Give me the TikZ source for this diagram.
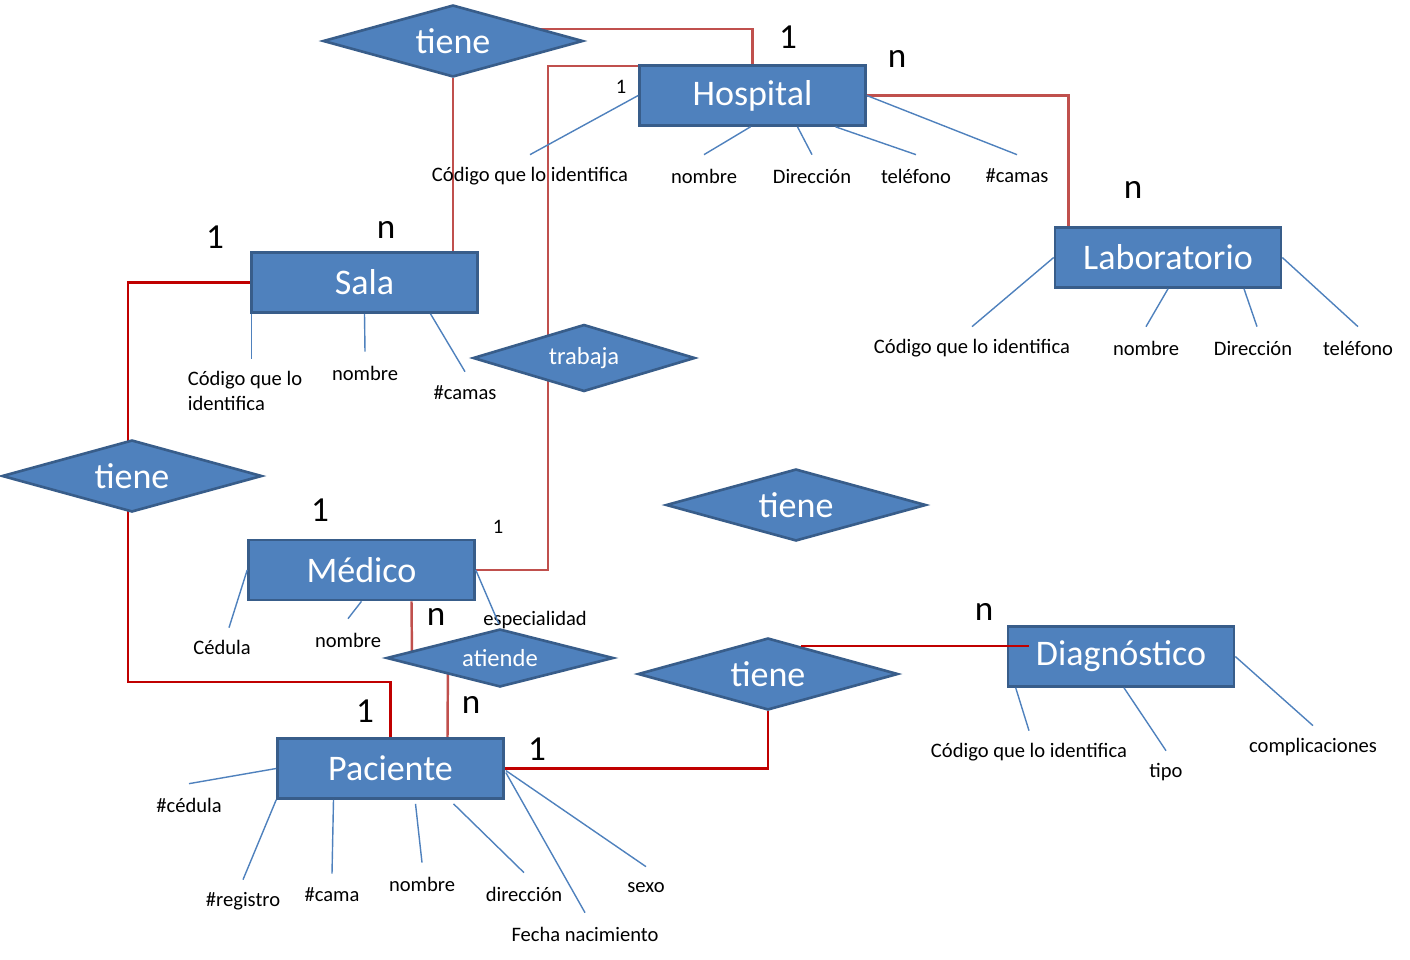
\documentclass[tikz,border=0pt]{standalone}
\usepackage{fontspec}
\setmainfont{Carlito}
\usetikzlibrary{shapes,positioning,calc,backgrounds}
\definecolor{entfill}{HTML}{4F81BD}
\definecolor{entline}{HTML}{385D8A}
\definecolor{relred}{HTML}{C0504D}
\definecolor{reldark}{HTML}{C00000}
\definecolor{attrblue}{HTML}{4F81BD}
\newcommand{\entfont}{\fontsize{20.5}{24}\selectfont}
\newcommand{\relfont}{\fontsize{14}{17}\selectfont}
\newcommand{\attfont}{\fontsize{11.7}{14.2}\selectfont}
\newcommand{\cardfont}{\fontsize{20}{24}\selectfont}
\tikzset{
  entity/.style    = {draw=entline, fill=entfill, line width=1.5pt, rectangle,
                      minimum width=4.52cm, minimum height=1.2cm, text=white, font=\entfont},
  relation/.style  = {draw=entline, fill=entfill, line width=1.5pt, diamond, aspect=3.6, inner sep=0pt,
                      minimum width=5.2cm, minimum height=1.44cm, text=white, font=\entfont},
  relsmall/.style  = {relation, aspect=3.3, minimum width=4.44cm, minimum height=1.34cm, font=\relfont},
  attr/.style      = {inner sep=0pt, minimum height=0.84cm, font=\attfont},
  attrline/.style  = {draw=attrblue, line width=0.8pt},
  relline/.style   = {draw=relred, line width=1.4pt},
  darkline/.style  = {draw=reldark, line width=1.4pt},
  cardbig/.style   = {inner sep=0pt, font=\cardfont},
  cardsmall/.style = {inner sep=0pt, font=\attfont}
}
\begin{document}
\begin{tikzpicture}[x=0.02cm, y=-0.02cm]
      \useasboundingbox (0,0) rectangle (1410,960);
      %Entities
      \node[entity] (hosp) at (752.5,95.5) {Hospital};
      \node[entity] (sala) at (364.5,282.5) {Sala};
      \node[entity] (lab) at (1168,257.5) {Laboratorio};
      \node[entity] (medico) at (361.5,570) {Médico};
      \node[entity] (pac) at (390.5,768.5) {Paciente};
      \node[entity] (diag) at (1121,656.5) {Diagnóstico};
      %Relations
      \node[relation] (tieneA) at (453,41) {tiene};
      \node[relsmall] (trabaja) at (584,358) {trabaja};
      \node[relation] (tieneL) at (132,476) {tiene};
      \node[relation] (tieneM) at (796,505) {tiene};
      \node[relsmall, minimum width=4.54cm, minimum height=1.16cm] (atiende) at (500,658) {atiende};
      \node[relation] (tieneB) at (768,674) {tiene};
      %Relation lines
      \begin{scope}[on background layer]
        \draw[relline] ($(tieneA.center)+(0,-12)$) -| (hosp.north);
        \draw[relline] (tieneA.south) -- (tieneA.south |- sala.north);
        \draw[relline] ($(hosp.north west)+(0,2)$) -| ($(trabaja.center)+(-36,0)$);
        \draw[relline] ($(trabaja.center)+(-36,0)$) |- (medico.east);
        \draw[relline] (hosp.east) -| ($(lab.north west)+(15,0)$);
        \draw[darkline] (sala.west) -| ($(tieneL.center)+(-4,0)$);
        \draw[darkline] ($(tieneL.center)+(-4,0)$) |- ($(pac.north)+(0,-55)$) -- (pac.north);
        \draw[relline] ($(medico.south)+(50,0)$) -- ($(atiende.center)+(-88,0)$);
        \draw[relline] ($(atiende.center)+(-52,0)$) -- ($(pac.north)+(57,0)$);
        \draw[darkline] (pac.east) -| (tieneB.south);
      \end{scope}
      \coordinate (dg) at ($(diag.west)+(22,-10)$);
      \coordinate (tb) at ($(tieneB.north)!0.25!(tieneB.east)$);
      \draw[darkline] (tb) -- (tb -| dg);
      %Attributes
      \node[attr] (hcod) at (530,176) {Código que lo identifica};
      \node[attr] (hnom) at (704,176) {nombre};
      \node[attr] (hdir) at (812,176) {Dirección};
      \node[attr] (htel) at (916,176) {teléfono};
      \node[attr] (hcam) at (1017,176) {\#camas};
      \draw[attrline] (hosp.west) -- (hcod.north);
      \draw[attrline] ($(hosp.south)+(-2,0)$) -- (hnom.north);
      \draw[attrline] ($(hosp.south)+(45,0)$) -- (hdir.north);
      \draw[attrline] ($(hosp.south)+(83,0)$) -- (htel.north);
      \draw[attrline] (hosp.east) -- (hcam.north);
      \node[attr, align=left] (scod) at (245,390.5) {Código que lo\\identifica};
      \node[attr] (snom) at (365,373) {nombre};
      \node[attr] (scam) at (465,393) {\#camas};
      \draw[attrline] ($(sala.south west)+(1,0)$) -- ($(sala.south west |- scod.north)+(1,-10)$);
      \draw[attrline] (sala.south) -- (snom.north);
      \draw[attrline] ($(sala.south)+(66,0)$) -- (scam.north);
      \node[attr] (lcod) at (972,348) {Código que lo identifica};
      \node[attr] (lnom) at (1146,348) {nombre};
      \node[attr] (ldir) at (1253,348) {Dirección};
      \node[attr] (ltel) at (1358,348) {teléfono};
      \draw[attrline] (lab.west) -- (lcod.north);
      \draw[attrline] (lab.south) -- (lnom.north);
      \draw[attrline] ($(lab.south)+(76,0)$) -- ($(ldir.north)+(4,0)$);
      \draw[attrline] (lab.east) -- (ltel.north);
      \node[attr] (mced) at (222,647) {Cédula};
      \node[attr] (mnom) at (348,640) {nombre};
      \node[attr] (mesp) at (535,620) {especialidad};
      \draw[attrline] (medico.west) -- ($(mced.north)+(7,2)$);
      \draw[attrline] (medico.south) -- (mnom.north);
      \draw[attrline] (medico.east) -- ($(mesp.west)+(16,4)$);
      \node[attr] (pced) at (189,805) {\#cédula};
      \node[attr] (preg) at (243,901) {\#registro};
      \node[attr] (pcam) at (332,895) {\#cama};
      \node[attr] (pnom) at (422,884) {nombre};
      \node[attr] (pdir) at (524,894) {dirección};
      \node[attr] (pfec) at (585,934) {Fecha nacimiento};
      \node[attr] (psex) at (646,888) {sexo};
      \draw[attrline] (pac.west) -- (pced.north);
      \draw[attrline] (pac.south west) -- (preg.north);
      \draw[attrline] ($(pac.south)+(-57,0)$) -- (pcam.north);
      \draw[attrline] ($(pac.south)+(25,4)$) -- (pnom.north);
      \draw[attrline] ($(pac.south)+(63,4)$) -- (pdir.north);
      \draw[attrline] ($(pac.east)+(1,4)$) -- (pfec.north);
      \draw[attrline] ($(pac.east)+(1,2)$) -- (psex.north);
      \node[attr] (dcod) at (1029,752) {Código que lo identifica};
      \node[attr] (dtip) at (1166,772) {tipo};
      \node[attr] (dcom) at (1313,747) {complicaciones};
      \draw[attrline] ($(diag.south west)+(9,0)$) -- (dcod.north);
      \draw[attrline] ($(diag.south)+(3,0)$) -- (dtip.north);
      \draw[attrline] (diag.east) -- (dcom.north);
      %Cardinalities
      \node[cardbig] (c1) at (788,37) {1};
      \node[cardbig] (c2) at (897,59) {n};
      \node[cardsmall] (c3) at (621,87) {1};
      \node[cardbig] (c4) at (1133,190) {n};
      \node[cardbig] (c5) at (215,237) {1};
      \node[cardbig] (c6) at (386,230) {n};
      \node[cardbig] (c7) at (320,510) {1};
      \node[cardsmall] (c8) at (498,527) {1};
      \node[cardbig] (c9) at (436,617) {n};
      \node[cardbig] (c10) at (471,705) {n};
      \node[cardbig] (c11) at (365,711) {1};
      \node[cardbig] (c12) at (537,749) {1};
      \node[cardbig] (c13) at (984,612) {n};
    \end{tikzpicture}
\end{document}
